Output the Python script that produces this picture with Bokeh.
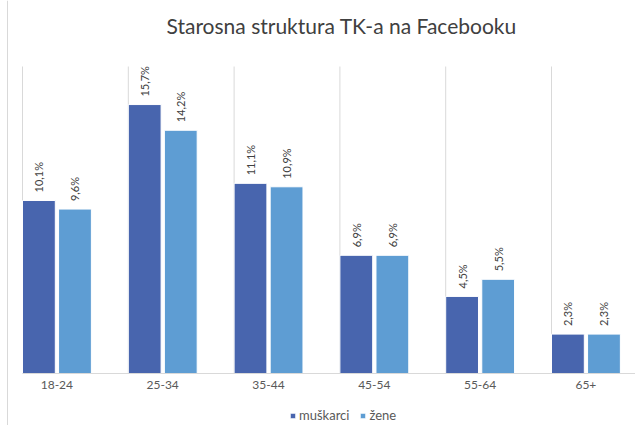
from bokeh.plotting import figure
from bokeh.models import Range1d, Legend, LegendItem, ColumnDataSource, Span
from bokeh.core.properties import value
from bokeh.embed import file_html
from bokeh.resources import INLINE
import math

categories = ["18-24", "25-34", "35-44", "45-54", "55-64", "65+"]
muskarci = [10.1, 15.7, 11.1, 6.9, 4.5, 2.3]
zene = [9.6, 14.2, 10.9, 6.9, 5.5, 2.3]
series_names = ["muškarci", "žene"]
title_text = "Starosna struktura TK-a na Facebooku"

DARK = "#4865AE"
LIGHT = "#5E9DD3"
GRID = "#D9D9D9"
FONT = "Lato"

def fmt(v):
    return ("%.1f%%" % v).replace(".", ",")

W, H = 635, 425
CAT_PX = 105.8          # pixel width of one category slot
PX_PER_PCT = 17.13      # vertical scale
GRID_TOP = 66           # pixel row where gridlines begin
BASE_Y = 373            # pixel row of the baseline
LEFT0 = 22              # pixel column of first category start
TITLE_Y = 24.5          # pixel row of title centre
TITLE_X = 166           # pixel column of title start

y_top = BASE_Y / PX_PER_PCT
y_start = y_top - H / PX_PER_PCT
grid_end = (BASE_Y - GRID_TOP) / PX_PER_PCT
x_start = -LEFT0 / CAT_PX
x_end = (W - LEFT0) / CAT_PX

idx = list(range(len(categories)))
bw = 0.31
x_dark = [i + 0.155 for i in idx]
x_light = [i + 0.496 for i in idx]
centers = [i + 0.325 for i in idx]

src_d = ColumnDataSource(dict(x=x_dark, top=muskarci, lab=[fmt(v) for v in muskarci]))
src_l = ColumnDataSource(dict(x=x_light, top=zene, lab=[fmt(v) for v in zene]))
src_c = ColumnDataSource(dict(x=centers, y=[0] * len(categories), lab=categories))
src_g = ColumnDataSource(dict(x=idx, y0=[0] * len(idx), y1=[grid_end] * len(idx)))

p = figure(width=W, height=H, output_backend="svg", toolbar_location=None,
           x_range=Range1d(x_start, x_end), y_range=Range1d(y_start, y_top),
           min_border_left=0, min_border_right=0, min_border_top=0, min_border_bottom=0,
           outline_line_color=None, background_fill_color="white", border_fill_color="white")
p.axis.visible = False
p.grid.visible = False

# chart title
p.text(x=[(TITLE_X - LEFT0) / CAT_PX], y=[(BASE_Y - TITLE_Y) / PX_PER_PCT], text=[title_text],
       text_align="left", text_baseline="middle", text_font=value(FONT),
       text_font_size="21px", text_color="#404040")

# container left border
p.add_layout(Span(location=-15 / CAT_PX, dimension="height", line_color=GRID, line_width=1))

# vertical gridlines at category starts
p.segment(x0="x", y0="y0", x1="x", y1="y1", source=src_g, line_color=GRID, line_width=1)

r1 = p.vbar(x="x", top="top", width=bw, source=src_d, fill_color=DARK, line_color="white", line_width=1)
r2 = p.vbar(x="x", top="top", width=bw, source=src_l, fill_color=LIGHT, line_color="white", line_width=1)

# category axis line
p.segment(x0=[0], y0=[0], x1=[x_end], y1=[0], line_color=GRID, line_width=1)

for src in (src_d, src_l):
    p.text(x="x", y="top", text="lab", source=src, angle=math.pi / 2, y_offset=-8,
           text_align="left", text_baseline="middle", text_font=value(FONT),
           text_font_size="11px", text_color="#404040")

p.text(x="x", y="y", text="lab", source=src_c, y_offset=11, text_align="center",
       text_baseline="middle", text_font=value(FONT), text_font_size="12px", text_color="#595959")

legend = Legend(items=[LegendItem(label=series_names[0], renderers=[r1]),
                       LegendItem(label=series_names[1], renderers=[r2])],
                orientation="horizontal", location=(289, 2),
                glyph_width=7, glyph_height=7, label_standoff=3, spacing=10, padding=0, margin=0,
                label_text_font=FONT, label_text_font_size="13px", label_text_color="#595959",
                border_line_color=None, background_fill_alpha=0)
p.add_layout(legend)

open("out.html", "w").write(file_html(p, INLINE))
